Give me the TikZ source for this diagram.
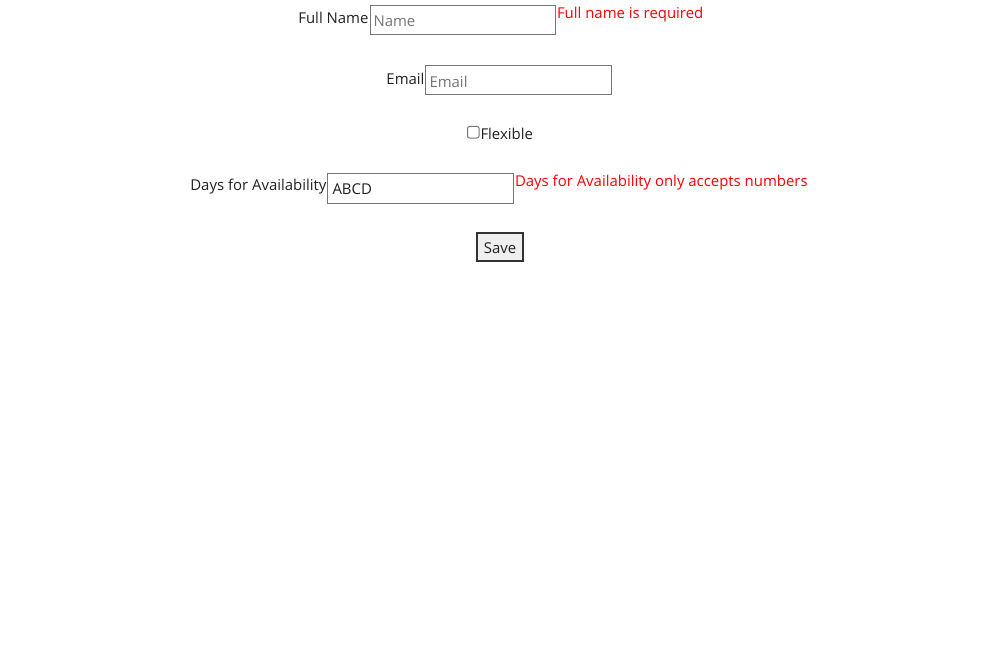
\documentclass[tikz,border=0pt]{standalone}
\usepackage{fontspec}
\setmainfont{Open Sans}
\tikzset{every picture/.style={line width=0.75pt}}
\tikzset{
  formtext/.style={inner sep=0pt, font=\fontsize{11.2}{13}\selectfont, color={rgb, 255:red, 33; green, 33; blue, 33 }},
  hinttext/.style={formtext, color={rgb, 255:red, 117; green, 117; blue, 117 }},
  errortext/.style={formtext, color={rgb, 255:red, 255; green, 0; blue, 0 }},
  fieldbox/.style={draw={rgb, 255:red, 118; green, 118; blue, 118 }, fill=white},
}

\begin{document}
\begin{tikzpicture}[x=0.75pt,y=0.75pt,yscale=-1,xscale=1]
    %set diagram to 1000 x 660
    \path [fill=white] (0,0) rectangle (1000,660);
    
    %Shape: Rectangle [id:namebox]
    \draw  [fieldbox] (370,5.5) -- (555.5,5.5) -- (555.5,35) -- (370,35) -- cycle ;
    %Shape: Rectangle [id:emailbox]
    \draw  [fieldbox] (425.5,65.5) -- (611.5,65.5) -- (611.5,95) -- (425.5,95) -- cycle ;
    %Shape: Rectangle [id:checkbox]
    \draw  [fieldbox, rounded corners=1.5] (467.5,126.5) -- (479,126.5) -- (479,138) -- (467.5,138) -- cycle ;
    %Shape: Rectangle [id:daysbox]
    \draw  [fieldbox] (327.5,173.5) -- (513.5,173.5) -- (513.5,203) -- (327.5,203) -- cycle ;
    %Shape: Rectangle [id:savebtn]
    \draw  [draw={rgb, 255:red, 51; green, 51; blue, 51 }, line width=1.5pt, fill={rgb, 255:red, 239; green, 239; blue, 239 }] (477,233) -- (523,233) -- (523,261) -- (477,261) -- cycle ;
    
    % Text Node
    \draw (369,17.5) node [anchor=east][formtext] (namelbl) {Full Name};
    % Text Node
    \draw (373,21.5) node [anchor=west][hinttext] (namehint) {Name};
    % Text Node
    \draw (556.5,15) node [anchor=west][errortext] (nameerr) {Full name is required};
    % Text Node
    \draw (425,78.5) node [anchor=east][formtext] (emaillbl) {Email};
    % Text Node
    \draw (429,81.5) node [anchor=west][hinttext] (emailhint) {Email};
    % Text Node
    \draw (480,133.5) node [anchor=west][formtext] (flexlbl) {Flexible};
    % Text Node
    \draw (327,186.5) node [anchor=east][formtext] (dayslbl) {Days for Availability};
    % Text Node
    \draw (332,189.5) node [anchor=west][formtext] (daysval) {ABCD};
    % Text Node
    \draw (514.5,183) node [anchor=west][errortext] (dayserr) {Days for Availability only accepts numbers};
    % Text Node
    \draw (500,248.5) node [formtext] (savelbl) {Save};
    
\end{tikzpicture}
\end{document}
